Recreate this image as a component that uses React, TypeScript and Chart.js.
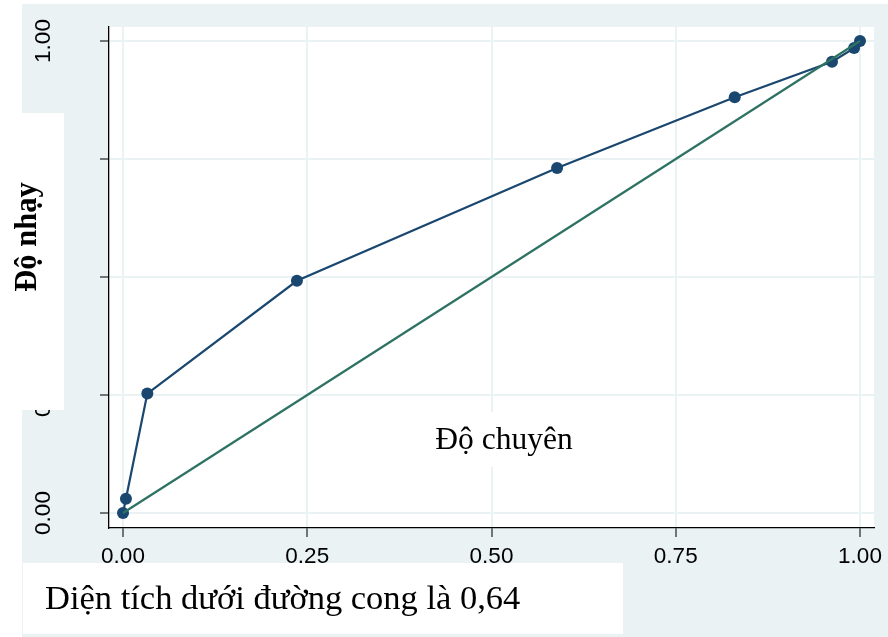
import React, { useEffect, useRef } from "react";
import { Chart, registerables } from "chart.js";

Chart.register(...registerables);

// ROC curve: false-positive fraction vs. sensitivity at each cut-off
const rocX = [0, 0.004, 0.033, 0.236, 0.589, 0.83, 0.962, 0.992, 1];
const rocY = [0, 0.03, 0.253, 0.492, 0.731, 0.881, 0.956, 0.985, 1];
const refX = [0, 1];
const refY = [0, 1];
const tickValues = [0, 0.25, 0.5, 0.75, 1];
const tickLabels = ["0.00", "0.25", "0.50", "0.75", "1.00"];

const yTitle = "Độ nhạy";
const xTitle = "Độ chuyên";
const noteText = "Diện tích dưới đường cong là 0,64";

const W = 888;
const H = 637;
const BG = "#eaf2f3";
const NAVY = "#1a476f";
const GREEN = "#2d7262";
const SANS = '"Liberation Sans", Arial, sans-serif';
const SERIF = '"Liberation Serif", "Times New Roman", serif';

const decor = {
  id: "decor",
  beforeDraw(chart: any) {
    const { ctx, chartArea } = chart;
    ctx.save();
    ctx.fillStyle = "#ffffff";
    ctx.fillRect(0, 0, W, H);
    ctx.fillStyle = BG;
    ctx.fillRect(22, 4, W - 22, H - 4);
    ctx.fillStyle = "#ffffff";
    ctx.fillRect(chartArea.left, chartArea.top, chartArea.right - chartArea.left, chartArea.bottom - chartArea.top);
    ctx.restore();
  },
  afterDraw(chart: any) {
    const { ctx } = chart;
    const xs = chart.scales.x;
    const ys = chart.scales.y;
    ctx.save();
    ctx.fillStyle = "#000000";
    ctx.font = `22.5px ${SANS}`;
    // x tick labels
    ctx.textAlign = "center";
    ctx.textBaseline = "alphabetic";
    tickValues.forEach((v, i) => {
      ctx.fillText(tickLabels[i], xs.getPixelForValue(v), 563);
    });
    // y tick labels, rotated
    tickValues.forEach((v, i) => {
      ctx.save();
      ctx.translate(50, ys.getPixelForValue(v));
      ctx.rotate(-Math.PI / 2);
      ctx.fillText(tickLabels[i], 0, 0);
      ctx.restore();
    });
    // white boxes
    ctx.fillStyle = "#ffffff";
    ctx.fillRect(0, 113, 64, 297);
    ctx.fillRect(425, 412, 160, 55);
    ctx.fillRect(23, 563, 600, 71);
    // titles
    ctx.fillStyle = "#000000";
    ctx.font = `bold 30.5px ${SERIF}`;
    ctx.save();
    ctx.translate(36, 237);
    ctx.rotate(-Math.PI / 2);
    ctx.textAlign = "center";
    ctx.fillText(yTitle, 0, 0);
    ctx.restore();
    ctx.font = `31.5px ${SERIF}`;
    ctx.textAlign = "center";
    ctx.fillText(xTitle, 504, 449);
    ctx.font = `34.5px ${SERIF}`;
    ctx.textAlign = "left";
    ctx.fillText(noteText, 45, 609);
    ctx.restore();
  },
};

export default function App() {
  const ref = useRef<HTMLCanvasElement | null>(null);

  useEffect(() => {
    if (!ref.current) return;
    const setTicks = (s: any) => {
      s.ticks = tickValues.map((v) => ({ value: v }));
    };
    const chart = new Chart(ref.current, {
      type: "scatter",
      data: {
        datasets: [
          {
            label: "ref",
            data: refX.map((x, i) => ({ x, y: refY[i] })),
            showLine: true,
            borderColor: GREEN,
            borderWidth: 2.2,
            pointRadius: 0,
            order: 0,
          },
          {
            label: "roc",
            data: rocX.map((x, i) => ({ x, y: rocY[i] })),
            showLine: true,
            borderColor: NAVY,
            backgroundColor: NAVY,
            borderWidth: 2.2,
            pointRadius: 6,
            pointBorderWidth: 0,
            order: 1,
          },
        ],
      },
      options: {
        responsive: false,
        animation: false,
        devicePixelRatio: 1,
        layout: { padding: { left: 0, top: 27, right: 14, bottom: 0 } },
        plugins: { legend: { display: false }, tooltip: { enabled: false } },
        scales: {
          x: {
            type: "linear",
            min: -14 / 737,
            max: 1 + 14 / 737,
            afterBuildTicks: setTicks,
            afterFit: (s: any) => {
              s.height = 109;
            },
            ticks: { display: false },
            grid: { color: BG, lineWidth: 2, tickColor: "#222", tickWidth: 1.2, tickLength: 9 },
            border: { display: true, color: "#000", width: 1.3 },
          },
          y: {
            type: "linear",
            min: -15 / 472,
            max: 1 + 14 / 472,
            afterBuildTicks: setTicks,
            afterFit: (s: any) => {
              s.width = 109;
            },
            ticks: { display: false },
            grid: { color: BG, lineWidth: 2, tickColor: "#222", tickWidth: 1.2, tickLength: 9 },
            border: { display: true, color: "#000", width: 1.3 },
          },
        },
      },
      plugins: [decor],
    });
    return () => chart.destroy();
  }, []);

  return (
    <div style={{ position: "absolute", left: 0, top: 0, width: W, height: H }}>
      <canvas ref={ref} width={W} height={H} style={{ width: W, height: H, display: "block" }} />
    </div>
  );
}
